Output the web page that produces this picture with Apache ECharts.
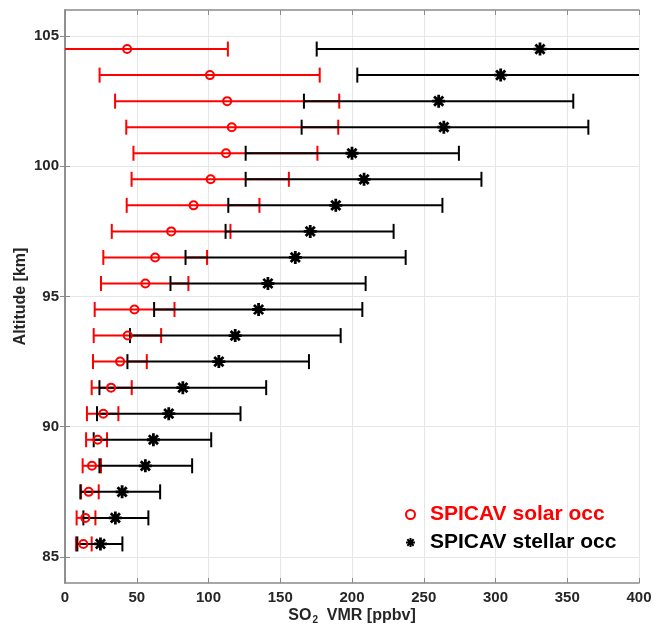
<!DOCTYPE html>
<html>
<head>
<meta charset="utf-8">
<script src="https://cdn.jsdelivr.net/npm/echarts@6/dist/echarts.min.js"></script>
<style>
  html, body { margin: 0; padding: 0; background: #fff; }
  #chart { width: 654px; height: 628px; }
</style>
</head>
<body>
<div id="chart"></div>
<script>
// SO2 volume mixing ratio profiles (ppbv) with 1-sigma ranges, by altitude (km)
const altitudes = [104.5, 103.5, 102.5, 101.5, 100.5, 99.5, 98.5, 97.5, 96.5, 95.5,
                   94.5, 93.5, 92.5, 91.5, 90.5, 89.5, 88.5, 87.5, 86.5, 85.5];

const solarVmr  = [43.3, 101, 113, 116.2, 112.2, 101.5, 89.6, 74, 62.8, 56,
                   48.4, 43.7, 38.4, 32.1, 26.7, 22.8, 18.8, 16.5, 14.2, 12.8];
const solarLow  = [-27, 24.1, 34.9, 42.7, 47.7, 46.4, 43, 32.6, 26.7, 25.1,
                   20.7, 20, 19.5, 18.6, 15.3, 14.7, 12.3, 11.2, 8.1, 7.7];
const solarHigh = [113.5, 177.5, 191.1, 190.4, 175.9, 156, 135.5, 115.3, 99, 86,
                   76.3, 67, 57, 46.5, 37.2, 29.3, 25.1, 23.5, 21.2, 18.6];

const stellarVmr  = [331, 303.6, 260.4, 264, 200, 208.4, 188.7, 170.9, 160.5, 141.4,
                     134.9, 118.6, 107.2, 82.1, 72.3, 61.6, 56, 39.8, 35.1, 24.7];
const stellarLow  = [175.4, 203.7, 166.5, 164.9, 125.9, 125.9, 113.8, 111.9, 84, 73.5,
                     62.1, 45.3, 43.5, 24, 22.3, 20, 24, 10.7, 12.8, 8.6];
const stellarHigh = [487, 404, 354.2, 364.7, 274.5, 290.2, 263, 229, 237.4, 209.5,
                     207.2, 192.1, 170, 140.2, 122.3, 101.9, 88.6, 66.3, 58.1, 40];

const xTicks = [0, 50, 100, 150, 200, 250, 300, 350, 400];
const yTicks = [85, 90, 95, 100, 105];

const seriesNames = ['SPICAV solar occ', 'SPICAV stellar occ'];

const RED = '#ff0000';
const BLACK = '#000000';
const AXIS = '#8a8a8a';
const TEXT = '#262626';
const GRID = '#e6e6e6';
const FONT = '"Liberation Sans", Arial, sans-serif';

function rangeData(low, high) {
  return altitudes.map((a, i) => [a, low[i], high[i]]);
}
function pointData(vals) {
  return altitudes.map((a, i) => [vals[i], a]);
}

// Horizontal error bar with end caps
function errorBar(color) {
  return function (params, api) {
    const alt = api.value(0);
    const p1 = api.coord([api.value(1), alt]);
    const p2 = api.coord([api.value(2), alt]);
    const h = 7.5;
    const style = { stroke: color, lineWidth: 2, fill: null };
    return {
      type: 'group',
      children: [
        { type: 'line', shape: { x1: p1[0], y1: p1[1], x2: p2[0], y2: p2[1] }, style },
        { type: 'line', shape: { x1: p1[0], y1: p1[1] - h, x2: p1[0], y2: p1[1] + h }, style },
        { type: 'line', shape: { x1: p2[0], y1: p2[1] - h, x2: p2[0], y2: p2[1] + h }, style }
      ]
    };
  };
}

const starPath = 'path://M6 0L6 12M0 6L12 6M1.76 1.76L10.24 10.24M1.76 10.24L10.24 1.76';

const chart = echarts.init(document.getElementById('chart'), null, { renderer: 'canvas' });

const mirrorAxis = {
  axisLine: { show: true, lineStyle: { color: AXIS, width: 1.5 } },
  axisTick: { show: true, inside: true, length: 5, lineStyle: { color: AXIS } },
  axisLabel: { show: false },
  splitLine: { show: false }
};

const labelStyle = { color: TEXT, fontFamily: FONT, fontWeight: 'bold', fontSize: 15 };

chart.setOption({
  animation: false,
  backgroundColor: '#ffffff',
  grid: { left: 65, right: 15, top: 10, bottom: 45, containLabel: false, outerBoundsMode: 'none' },
  xAxis: [
    {
      type: 'value', min: 0, max: 400, interval: 50, position: 'bottom',
      name: '{a|SO}{s|2}{a|  VMR [ppbv]}', nameLocation: 'middle', nameGap: 23,
      nameMoveOverlap: false,
      nameTextStyle: {
        rich: {
          a: { fontFamily: FONT, fontWeight: 'bold', fontSize: 16, color: TEXT },
          s: { fontFamily: FONT, fontWeight: 'bold', fontSize: 10, color: TEXT, padding: [9, 0, 0, 1] }
        }
      },
      axisLine: { show: true, lineStyle: { color: AXIS, width: 1.5 } },
      axisTick: { show: true, inside: true, length: 5, lineStyle: { color: AXIS } },
      axisLabel: Object.assign({ show: true, margin: 7, customValues: xTicks }, labelStyle),
      splitLine: { show: true, lineStyle: { color: GRID, width: 1 } }
    },
    Object.assign({ type: 'value', min: 0, max: 400, interval: 50, position: 'top' }, mirrorAxis)
  ],
  yAxis: [
    {
      type: 'value', min: 84, max: 106, position: 'left',
      name: 'Altitude [km]', nameLocation: 'middle', nameGap: 36, nameRotate: 90,
      nameMoveOverlap: false,
      nameTextStyle: { fontFamily: FONT, fontWeight: 'bold', fontSize: 16, color: TEXT },
      axisLine: { show: true, lineStyle: { color: AXIS, width: 1.5 } },
      axisTick: { show: true, inside: true, length: 5, lineStyle: { color: AXIS }, customValues: yTicks },
      axisLabel: Object.assign({ show: true, margin: 6, customValues: yTicks }, labelStyle),
      splitLine: { show: true, lineStyle: { color: GRID, width: 1 } }
    },
    Object.assign({ type: 'value', min: 84, max: 106, position: 'right' }, mirrorAxis, {
      axisTick: { show: true, inside: true, length: 5, lineStyle: { color: AXIS }, customValues: yTicks }
    })
  ],
  legend: {
    orient: 'vertical',
    left: 400, top: 499,
    itemWidth: 9, itemHeight: 9, itemGap: 7,
    selectedMode: false,
    textStyle: { fontFamily: FONT, fontWeight: 'bold', fontSize: 21, padding: [0, 0, 0, 10] },
    data: [
      { name: seriesNames[0], textStyle: { color: RED } },
      { name: seriesNames[1], textStyle: { color: BLACK } }
    ]
  },
  series: [
    {
      type: 'custom', name: 'solar range', clip: true, z: 2,
      renderItem: errorBar(RED),
      encode: { x: [1, 2], y: 0 },
      data: rangeData(solarLow, solarHigh)
    },
    {
      type: 'custom', name: 'stellar range', clip: true, z: 3,
      renderItem: errorBar(BLACK),
      encode: { x: [1, 2], y: 0 },
      data: rangeData(stellarLow, stellarHigh)
    },
    {
      type: 'scatter', name: seriesNames[0], z: 5,
      symbol: 'circle', symbolSize: 8,
      itemStyle: { color: 'rgba(0,0,0,0)', borderColor: RED, borderWidth: 2, opacity: 1 },
      data: pointData(solarVmr)
    },
    {
      type: 'scatter', name: seriesNames[1], z: 6,
      symbol: starPath, symbolSize: 13, symbolKeepAspect: true,
      itemStyle: { color: BLACK, borderColor: BLACK, borderWidth: 2.8, opacity: 1 },
      data: pointData(stellarVmr)
    }
  ]
});
</script>
</body>
</html>
